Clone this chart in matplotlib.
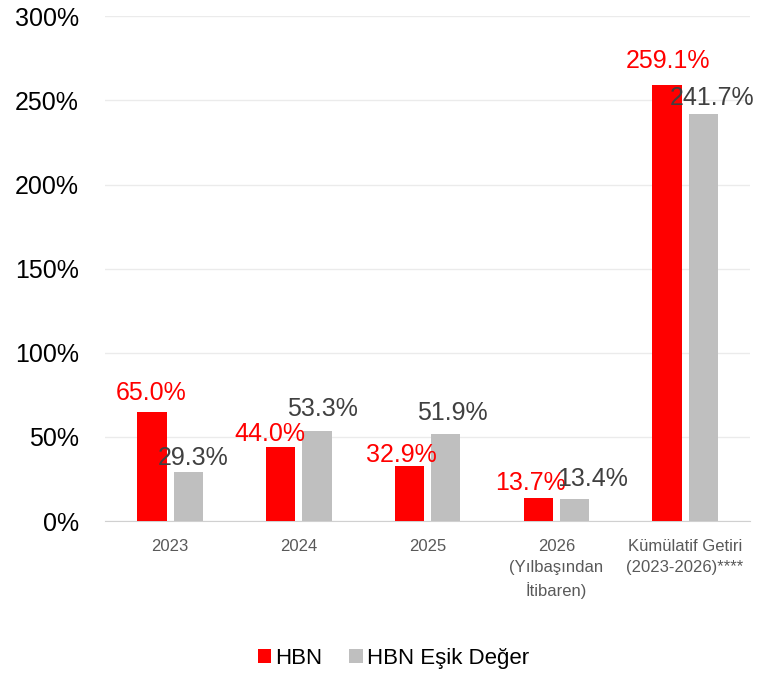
import numpy as np
import matplotlib.pyplot as plt
from matplotlib.ticker import PercentFormatter

plt.rcParams['font.family'] = ['Liberation Sans', 'DejaVu Sans']

categories = ['2023', '2024', '2025', '2026\n(Yılbaşından\nİtibaren)',
              'Kümülatif Getiri\n(2023-2026)****']
hbn = [65.0, 44.0, 32.9, 13.7, 259.1]
esik = [29.3, 53.3, 51.9, 13.4, 241.7]
series_names = ['HBN', 'HBN Eşik Değer']

# label nudges in pixels (dx, dy) so they sit like in the original
hbn_nudge = [(-0.5, 12), (-11, 6), (-8.5, 4), (-8, 8), (1.5, 17)]
esik_nudge = [(4.5, 7), (5.5, 15), (7, 14), (18, 13), (8.5, 9)]

red = '#ff0000'
grey = '#bfbfbf'

fig = plt.figure(figsize=(7.67, 6.75), dpi=100)
ax = fig.add_axes([0.137, 0.228, 0.841, 0.748])

x = np.arange(len(categories))
w = 0.228
off = 0.141
b1 = ax.bar(x - off, hbn, w, color=red, label=series_names[0], zorder=3)
b2 = ax.bar(x + off, esik, w, color=grey, label=series_names[1], zorder=3)

for xi, v, (dx, dy) in zip(x, hbn, hbn_nudge):
    ax.annotate('{:.1f}%'.format(v), (xi - off, v), xytext=(dx, dy),
                textcoords='offset pixels', ha='center', va='baseline',
                color=red, fontsize=18, zorder=4)
for xi, v, (dx, dy) in zip(x, esik, esik_nudge):
    ax.annotate('{:.1f}%'.format(v), (xi + off, v), xytext=(dx, dy),
                textcoords='offset pixels', ha='center', va='baseline',
                color='#404040', fontsize=18, zorder=4)

ax.set_xlim(-0.505, len(categories) - 0.495)
ax.set_ylim(0, 300)
ax.set_yticks(np.arange(0, 301, 50))
ax.yaxis.set_major_formatter(PercentFormatter(decimals=0))
ax.grid(axis='y', color='#ebebeb', linewidth=1, zorder=0)
ax.set_xticks(x)
ax.set_xticklabels(categories, fontsize=12, color='#595959', linespacing=1.5)
ax.tick_params(axis='x', length=0, pad=13)
ax.tick_params(axis='y', length=0, pad=19, labelsize=18, labelcolor='#000000')
for s in ['top', 'right', 'left']:
    ax.spines[s].set_visible(False)
ax.spines['bottom'].set_color('#d0d0d0')

fig.legend(handles=[b1, b2], labels=series_names, loc='center',
           bbox_to_anchor=(0.513, 0.0244), ncol=2, frameon=False, fontsize=16,
           handlelength=0.6, handleheight=0.6, handletextpad=0.2,
           columnspacing=1.2, borderpad=0)

plt.savefig('out.png', dpi=100)
